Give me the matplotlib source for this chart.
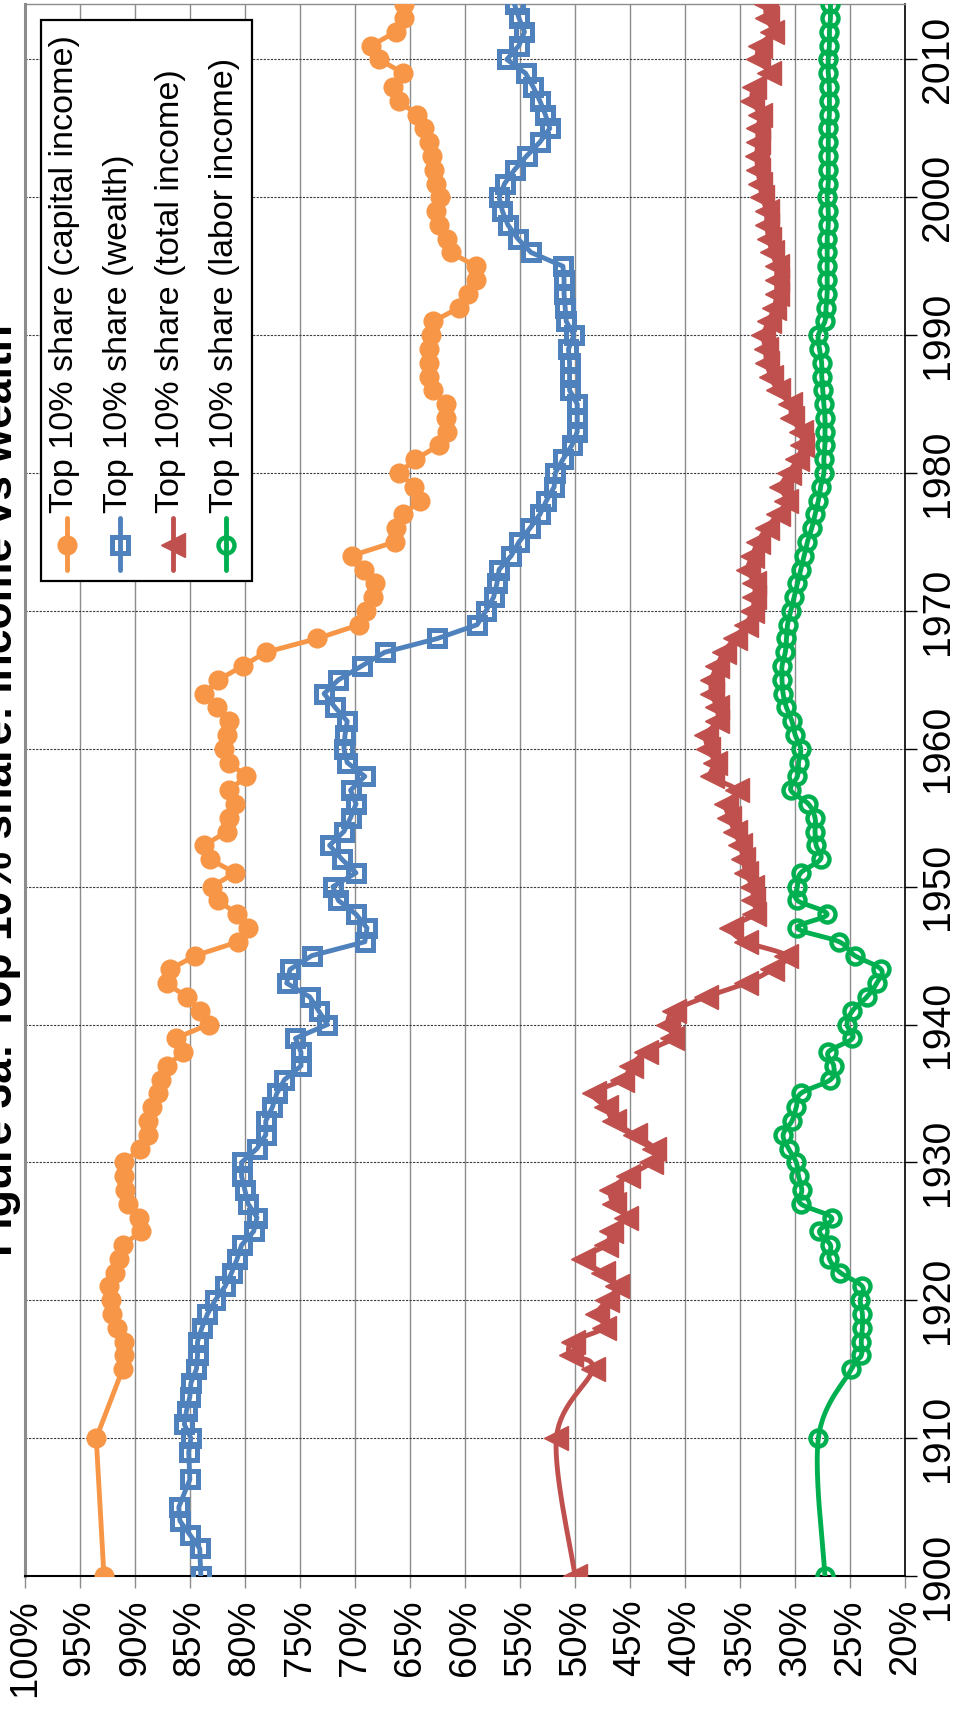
import numpy as np
import matplotlib
matplotlib.use("Agg")
import matplotlib.pyplot as plt
from matplotlib import font_manager as fm
from matplotlib.lines import Line2D
from matplotlib.patches import Rectangle

# ---------------- data ----------------
title = "Figure 3a: Top 10% share: income vs wealth"
series_names = ["Top 10% share (capital income)", "Top 10% share (wealth)",
                "Top 10% share (total income)", "Top 10% share (labor income)"]

pct_ticks = list(range(100, 15, -5))
pct_labels = [f"{p}%" for p in pct_ticks]
year_ticks = list(range(1900, 2011, 10))
year_labels = [str(y) for y in year_ticks]

income_years = [1900, 1910] + list(range(1915, 2015))
capital_income = [92.8, 93.5,
    91.1, 91.0, 91.0, 91.6, 92.1, 92.2, 92.3, 91.8, 91.4, 91.1,
    89.4, 89.6, 90.6, 90.9, 91.0, 91.0, 89.5, 88.8, 88.8, 88.4,
    87.9, 87.6, 87.1, 85.6, 86.3, 83.3, 84.1, 85.3, 87.1, 86.8,
    84.5, 80.6, 79.7, 80.7, 82.4, 83.0, 80.9, 83.2, 83.7, 81.6,
    81.4, 80.9, 81.4, 79.9, 81.4, 81.9, 81.6, 81.4, 82.5, 83.7,
    82.4, 80.2, 78.1, 73.4, 69.6, 69.0, 68.4, 68.2, 69.2, 70.3,
    66.4, 66.3, 65.6, 64.1, 64.6, 66.0, 64.5, 62.4, 61.6, 61.7,
    61.7, 62.9, 63.3, 63.3, 63.3, 63.1, 62.9, 60.5, 59.7, 59.0,
    59.0, 61.3, 61.6, 62.4, 62.6, 62.3, 62.6, 62.8, 63.0, 63.3,
    63.7, 64.4, 66.0, 66.5, 65.6, 67.8, 68.5, 66.3, 65.5, 65.5]

wealth_years = [1900, 1902, 1903, 1904, 1905, 1907, 1909] + list(range(1910, 2015))
wealth = [84.0, 84.1, 85.0, 85.9, 86.0, 85.0, 85.1,
    84.9, 85.5, 85.3, 85.0, 84.9, 84.4, 84.3, 84.3, 83.9, 83.4,
    82.7, 81.8, 81.2, 80.7, 80.3, 79.2, 78.9, 79.7, 80.0, 80.3,
    80.3, 78.9, 78.1, 78.1, 77.5, 77.1, 76.4, 74.9, 74.9, 75.4,
    72.5, 73.3, 74.1, 76.2, 75.9, 73.9, 69.1, 68.9, 69.9, 71.5,
    72.0, 69.9, 71.2, 72.3, 71.0, 70.4, 69.9, 70.4, 69.1, 70.7,
    71.0, 70.9, 70.7, 71.8, 72.8, 71.5, 69.4, 67.3, 62.5, 58.9,
    58.1, 57.4, 57.1, 56.9, 55.8, 55.1, 54.1, 53.2, 52.6, 51.9,
    51.8, 51.1, 50.3, 49.8, 49.8, 49.8, 50.5, 50.5, 50.5, 50.6,
    50.1, 50.8, 50.9, 51.0, 51.0, 51.1, 54.0, 55.2, 56.1, 56.6,
    56.9, 56.4, 55.5, 54.4, 53.2, 52.3, 52.7, 53.2, 53.8, 54.5,
    56.2, 55.1, 54.6, 55.1, 55.5]

total_income = [50.0, 51.7,
    48.4, 50.4, 50.2, 47.4, 48.0, 47.1, 46.2, 47.5, 49.3, 47.2,
    46.7, 45.4, 46.5, 46.7, 45.2, 43.1, 42.8, 44.6, 46.5, 47.2,
    48.3, 45.7, 44.9, 43.6, 41.2, 41.6, 41.0, 38.1, 34.5, 32.1,
    30.8, 34.5, 35.8, 33.7, 33.8, 33.9, 34.5, 34.7, 35.0, 35.5,
    36.0, 36.3, 35.3, 37.6, 37.3, 37.9, 38.1, 37.1, 37.1, 37.6,
    37.6, 37.1, 36.5, 35.5, 34.5, 33.9, 33.7, 33.7, 34.3, 33.9,
    33.4, 32.6, 31.6, 30.8, 31.3, 30.6, 29.8, 29.4, 29.5, 30.3,
    30.5, 31.6, 32.2, 32.6, 32.7, 32.9, 32.4, 31.9, 31.7, 31.7,
    31.7, 32.1, 32.4, 32.6, 32.6, 33.0, 33.2, 33.4, 33.5, 33.4,
    33.4, 33.2, 33.9, 33.7, 32.4, 33.4, 33.2, 32.1, 32.6, 32.7]

labor_income = [27.3, 27.9,
    24.9, 24.0, 24.0, 23.9, 23.9, 24.1, 23.9, 25.9, 26.9, 26.8,
    27.8, 26.7, 29.5, 29.4, 29.7, 29.9, 30.6, 31.1, 30.3, 29.9,
    29.5, 26.8, 26.5, 27.0, 24.8, 25.3, 24.8, 23.5, 22.6, 22.2,
    24.6, 26.0, 29.8, 27.1, 29.8, 29.8, 29.5, 27.7, 28.1, 28.2,
    28.2, 28.8, 30.4, 29.8, 29.7, 29.5, 30.0, 30.3, 30.8, 31.1,
    31.2, 31.2, 30.9, 30.8, 30.7, 30.4, 30.1, 29.8, 29.5, 29.2,
    28.9, 28.5, 28.2, 27.9, 27.7, 27.4, 27.4, 27.3, 27.3, 27.3,
    27.4, 27.5, 27.6, 27.6, 27.8, 27.9, 27.3, 27.2, 27.1, 27.1,
    27.1, 27.1, 27.1, 27.0, 27.0, 27.1, 27.0, 27.0, 27.0, 27.0,
    27.0, 26.9, 26.9, 26.9, 27.0, 27.0, 26.9, 26.9, 26.8, 26.8]

colors = ["#F79646", "#4F81BD", "#C0504D", "#00B050"]

# ---------------- fonts ----------------
names = {f.name for f in fm.fontManager.ttflist}
if "Liberation Sans Narrow" in names:
    FONT = "Liberation Sans Narrow"
    XT_FS, YT_FS, LEG_FS, TITLE_FS = 33.5, 34.5, 30, 38
else:
    FONT = "Liberation Sans"
    XT_FS, YT_FS, LEG_FS, TITLE_FS = 27.5, 28.3, 24.6, 32
plt.rcParams["font.family"] = [FONT, "DejaVu Sans"]

W, H = 971, 1718
fig = plt.figure(figsize=(W / 100, H / 100), dpi=100)
L, R, T, B = 24.7, 905.3, 4.3, 1576
ax = fig.add_axes([L / W, 1 - B / H, (R - L) / W, (B - T) / H])


def smooth(xs, ys, n=16):
    P = np.column_stack([xs, ys]).astype(float)
    E = np.vstack([P[0], P, P[-1]])
    t = np.linspace(0, 1, n)[:, None]
    out = []
    for i in range(len(P) - 1):
        p0, p1, p2, p3 = E[i], E[i + 1], E[i + 2], E[i + 3]
        c1 = p1 + (p2 - p0) / 6.0
        c2 = p2 - (p3 - p1) / 6.0
        seg = ((1 - t) ** 3) * p1 + 3 * ((1 - t) ** 2) * t * c1 + 3 * (1 - t) * t ** 2 * c2 + t ** 3 * p2
        out.append(seg if i == 0 else seg[1:])
    S = np.vstack(out)
    return S[:, 0], S[:, 1]


LW = 3.5
mk = [dict(marker="o", ms=13.5, mfc=colors[0], mec=colors[0], mew=1),
      dict(marker="s", ms=12, mfc="none", mec=colors[1], mew=3.6),
      dict(marker="<", ms=17, mfc=colors[2], mec=colors[2], mew=1),
      dict(marker="o", ms=11.5, mfc="none", mec=colors[3], mew=3.2)]

# capital income
ax.plot(capital_income, income_years, color=colors[0], lw=LW, zorder=3)
ax.plot(capital_income, income_years, ls="none", zorder=3, **mk[0])
# wealth
ax.plot(wealth, wealth_years, color=colors[1], lw=LW, zorder=4)
ax.plot(wealth, wealth_years, ls="none", zorder=4, **mk[1])
# total income (smoothed line)
sx, sy = smooth(total_income, income_years)
ax.plot(sx, sy, color=colors[2], lw=LW, zorder=5)
ax.plot(total_income, income_years, ls="none", zorder=5, **mk[2])
# labor income (smoothed line)
sx, sy = smooth(labor_income, income_years)
ax.plot(sx, sy, color=colors[3], lw=LW, zorder=6)
ax.plot(labor_income, income_years, ls="none", zorder=6, **mk[3])

ax.set_xlim(100, 20)
ax.set_ylim(1900, 2014)
ax.set_xticks(pct_ticks)
ax.set_xticklabels(pct_labels, rotation=90, va="top", ha="center")
ax.yaxis.tick_right()
ax.set_yticks(year_ticks)
ax.set_yticklabels(year_labels, rotation=90, va="center", ha="left")
ax.tick_params(axis="x", direction="out", length=8.6, width=1.0, color="#8c8c8c",
               pad=8, labelsize=XT_FS)
ax.tick_params(axis="y", direction="out", length=8.6, width=1.0, color="black",
               pad=2, labelsize=YT_FS)
ax.grid(axis="x", color="#8c8c8c", lw=1.0, ls="-", zorder=0)
ax.grid(axis="y", color="#3a3a3a", lw=0.8, ls=(0, (2, 1.2)), zorder=0)
ax.set_axisbelow(True)
ax.spines["left"].set_color("#8c8c8c")
ax.spines["left"].set_linewidth(2.2)
ax.spines["top"].set_color("#8c8c8c")
ax.spines["top"].set_linewidth(1.0)
ax.spines["right"].set_color("black")
ax.spines["right"].set_linewidth(1.2)
ax.spines["bottom"].set_color("black")
ax.spines["bottom"].set_linewidth(1.5)

# title (rotated, partly running off the left edge as in the reference)
fig.text(21 / W, 1 - 790 / H, title, rotation=90, ha="right", va="center",
         fontsize=TITLE_FS, fontweight="bold")

# legend (built by hand because the whole chart is rotated)
fx = lambda px: px / W
fy = lambda py: 1 - py / H
fig.add_artist(Rectangle((fx(41), fy(581)), fx(252) - fx(41), fy(20) - fy(581),
                         transform=fig.transFigure, facecolor="white",
                         edgecolor="black", lw=1.6, zorder=10))
leg_x = [67, 120, 173, 226]
for i in range(4):
    x = fx(leg_x[i])
    fig.add_artist(Line2D([x, x], [fy(570), fy(518)], transform=fig.transFigure,
                          color=colors[i], lw=LW, zorder=11, solid_capstyle="round"))
    fig.add_artist(Line2D([x], [fy(545)], transform=fig.transFigure, ls="none",
                          zorder=12, **mk[i]))
    fig.text(fx(leg_x[i] - 2), fy(513), series_names[i], rotation=90, ha="center",
             va="bottom", fontsize=LEG_FS, zorder=13)

fig.savefig("out.png", dpi=100)
